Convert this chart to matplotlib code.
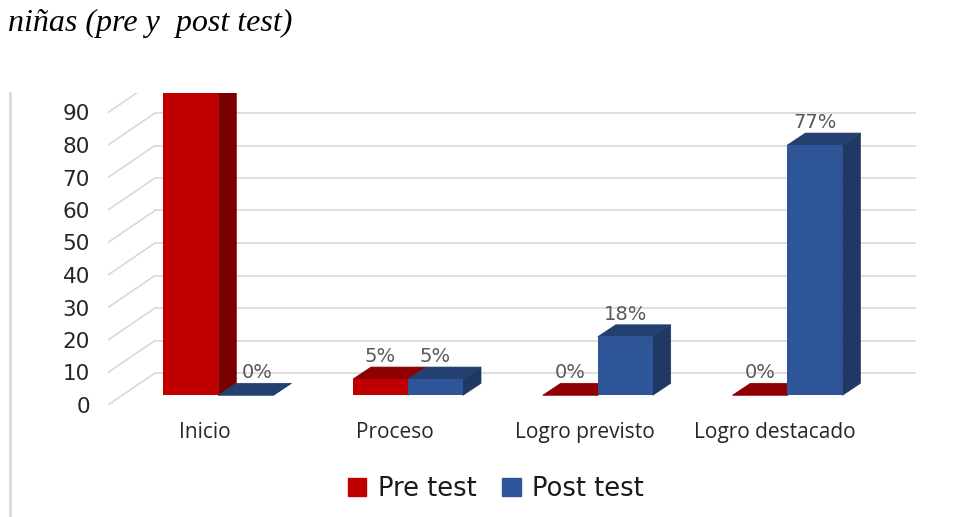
import matplotlib
matplotlib.use("Agg")
import matplotlib.pyplot as plt
from matplotlib.lines import Line2D
from matplotlib.patches import Patch

categories = ["Inicio", "Proceso", "Logro previsto", "Logro destacado"]
pre_test = [95, 5, 0, 0]
post_test = [0, 5, 18, 77]
y_ticks = [0, 10, 20, 30, 40, 50, 60, 70, 80, 90]

W, H = 957, 517

# pixels per unit on the two axes, the rest is worked out from them
PX_CAT = 189.7
PX_VAL = 3.25
BAR_W = 55 / PX_CAT
LIFT = 9.7 / PX_VAL       # front of the bars sits above the front of the floor
BAR_DX = 18 / PX_CAT
BAR_DY = 12 / PX_VAL
WALL_DX = 47 / PX_CAT
WALL_DY = 32 / PX_VAL

plt.rcParams["font.family"] = "DejaVu Sans"

fig = plt.figure(figsize=(W / 100, H / 100), dpi=100)
ax = fig.add_axes([108 / W, (H - 405) / H, (916 - 108) / W, (405 - 93) / H])
x0 = (108 - 218.3) / PX_CAT
x1 = (916 - 218.3) / PX_CAT
ax.set_xlim(x0, x1)
ax.set_ylim(0, 312 / PX_VAL)
for s in ax.spines.values():
    s.set_visible(False)

# grid on floor/side wall and back wall
for v in y_ticks + [100]:
    ax.plot([x0, x0 + WALL_DX], [v, v + WALL_DY], color="#D9D9D9", lw=1.2, zorder=1)
    ax.plot([x0 + WALL_DX, x1], [v + WALL_DY, v + WALL_DY], color="#D9D9D9", lw=1.2, zorder=1)


def box(left, value, front, side, top, z):
    bottom = LIFT
    ytop = bottom + value
    right = left + BAR_W
    ax.fill([right, right + BAR_DX, right + BAR_DX, right],
            [bottom, bottom + BAR_DY, ytop + BAR_DY, ytop], color=side, lw=0.5, zorder=z)
    ax.fill([left, right, right + BAR_DX, left + BAR_DX],
            [ytop, ytop, ytop + BAR_DY, ytop + BAR_DY], color=top, lw=0.5, zorder=z)
    ax.bar(left, value, BAR_W, bottom=bottom, align="edge", color=front, lw=0, zorder=z)


def label(x, value, shift=0.0):
    ax.text(x + shift, LIFT + value + BAR_DY + 10.5 / PX_VAL, f"{value}%", ha="center", va="center",
            fontsize=14, color="#595959", clip_on=True, zorder=6)


for i, (a, b) in enumerate(zip(pre_test, post_test)):
    box(i - BAR_W, a, "#C00000", "#7A0000", "#8F0000", 3)
    box(i, b, "#2E5597", "#1F3864", "#234070", 4)
    label(i - BAR_W / 2, a)
    label(i + BAR_W / 2, b, 11 / PX_CAT if b == 0 else 0.0)

ax.set_yticks(y_ticks)
ax.set_xticks([i - 13 / PX_CAT for i in range(len(categories))])
ax.set_xticklabels(categories, fontsize=15, color="#262626", fontfamily="Open Sans")
ax.tick_params(axis="x", length=0, pad=12.5)
ax.tick_params(axis="y", length=0, pad=13, labelsize=15.5, labelcolor="#262626")

fig.add_artist(Line2D([9.5 / W, 9.5 / W], [0, (H - 93) / H], color="#D9D9D9", lw=2))

fig.text(8 / W, (H - 23) / H, "niñas (pre y  post test)", family="Liberation Serif", style="italic",
         fontsize=23, color="black", va="center", ha="left")

handles = [Patch(color="#C00000", label="Pre test"), Patch(color="#2E5597", label="Post test")]
fig.legend(handles=handles, loc="center", bbox_to_anchor=(496 / W, (H - 489) / H), ncol=2, frameon=False,
           fontsize=18.5, handlelength=0.72, handleheight=0.72, handletextpad=0.45, columnspacing=1.0,
           labelcolor="#1a1a1a")

fig.savefig("out.png", dpi=100)
